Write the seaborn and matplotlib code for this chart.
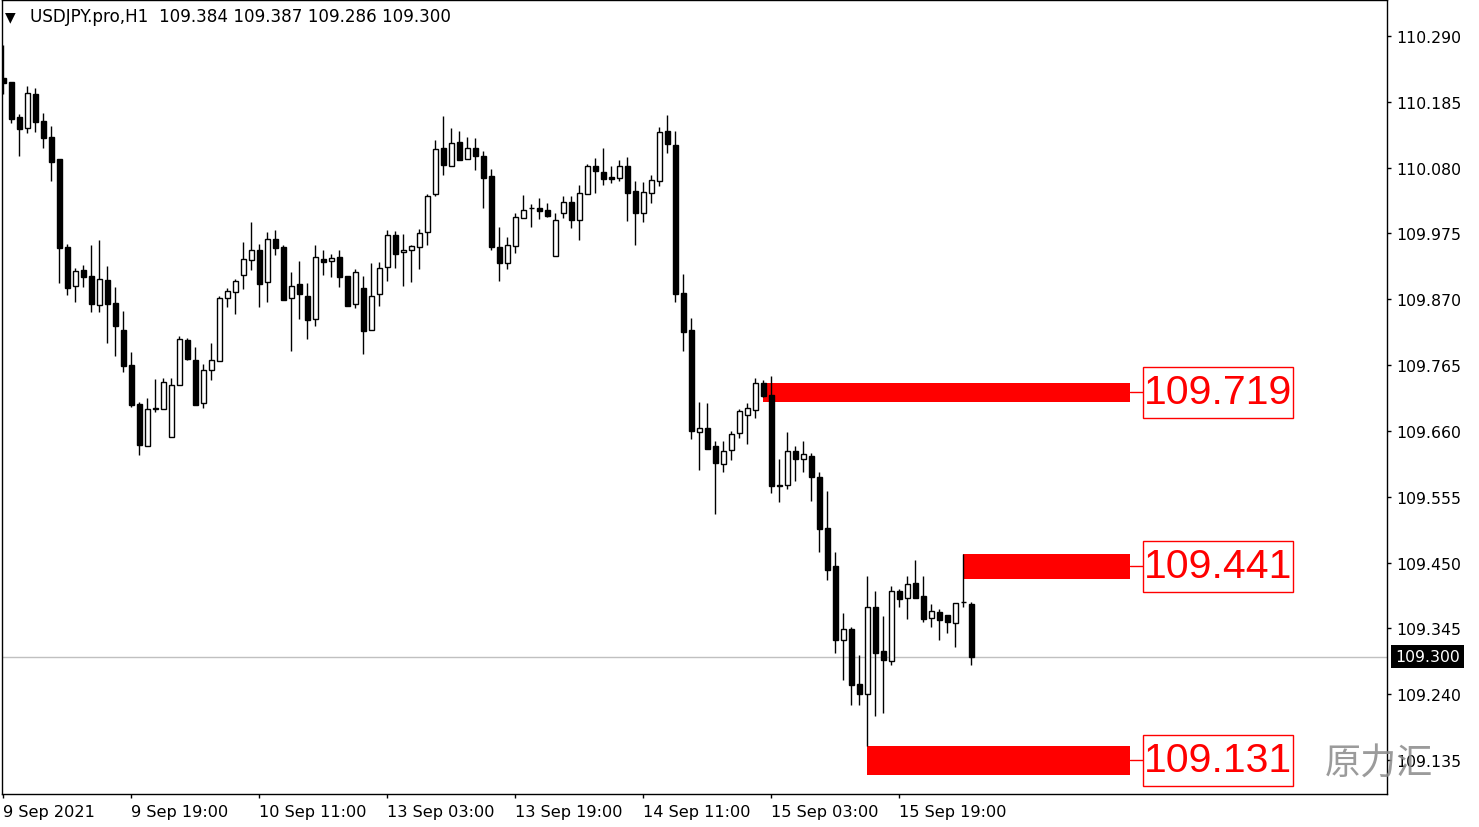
import numpy as np
import pandas as pd
import seaborn as sns
import matplotlib
matplotlib.use("Agg")
import matplotlib.pyplot as plt
from matplotlib.patches import Rectangle
from matplotlib.transforms import blended_transform_factory

# ---------------- data ----------------
opens = [110.223, 110.216, 110.160, 110.143, 110.197, 110.154, 110.129, 110.094, 109.953, 109.891,
         109.917, 109.907, 109.861, 109.901, 109.864, 109.821, 109.765, 109.703, 109.636, 109.695,
         109.695, 109.651, 109.734, 109.805, 109.773, 109.705, 109.758, 109.772, 109.872, 109.881,
         109.908, 109.932, 109.948, 109.897, 109.966, 109.953, 109.872, 109.894, 109.876, 109.838,
         109.935, 109.931, 109.938, 109.907, 109.862, 109.888, 109.821, 109.878, 109.921, 109.972,
         109.945, 109.948, 109.953, 109.977, 110.038, 110.111, 110.083, 110.121, 110.094, 110.111,
         110.099, 110.066, 109.954, 109.928, 109.955, 110.000, 110.015, 110.016, 110.012, 109.939,
         110.008, 110.026, 109.996, 110.038, 110.083, 110.073, 110.065, 110.063, 110.083, 110.043,
         110.007, 110.039, 110.059, 110.138, 110.116, 109.880, 109.821, 109.659, 109.665, 109.636,
         109.608, 109.629, 109.656, 109.686, 109.693, 109.736, 109.717, 109.574, 109.574, 109.628,
         109.616, 109.620, 109.587, 109.505, 109.444, 109.326, 109.344, 109.256, 109.240, 109.380,
         109.309, 109.293, 109.405, 109.394, 109.418, 109.397, 109.361, 109.371, 109.366, 109.354,
         109.388, 109.384]
highs = [110.276, 110.217, 110.166, 110.211, 110.207, 110.167, 110.146, 110.094, 109.958, 109.920,
         109.924, 109.957, 109.965, 109.923, 109.890, 109.851, 109.786, 109.707, 109.713, 109.743,
         109.745, 109.745, 109.812, 109.809, 109.794, 109.767, 109.800, 109.875, 109.888, 109.902,
         109.961, 109.994, 109.958, 109.977, 109.981, 109.957, 109.913, 109.931, 109.896, 109.957,
         109.949, 109.943, 109.949, 109.907, 109.918, 109.907, 109.928, 109.930, 109.981, 109.979,
         109.974, 109.957, 109.982, 110.038, 110.124, 110.163, 110.143, 110.138, 110.129, 110.127,
         110.107, 110.078, 109.986, 109.969, 110.007, 110.036, 110.022, 110.031, 110.023, 110.007,
         110.035, 110.034, 110.052, 110.086, 110.095, 110.111, 110.083, 110.092, 110.097, 110.059,
         110.057, 110.068, 110.145, 110.164, 110.138, 109.910, 109.840, 109.706, 109.704, 109.644,
         109.644, 109.660, 109.695, 109.704, 109.744, 109.741, 109.747, 109.616, 109.658, 109.636,
         109.644, 109.625, 109.595, 109.564, 109.467, 109.369, 109.347, 109.303, 109.428, 109.405,
         109.365, 109.412, 109.408, 109.428, 109.455, 109.428, 109.384, 109.376, 109.366, 109.385,
         109.464, 109.387]
lows = [110.197, 110.152, 110.098, 110.136, 110.137, 110.111, 110.059, 109.896, 109.877, 109.866,
        109.889, 109.850, 109.850, 109.800, 109.780, 109.754, 109.698, 109.622, 109.636, 109.690,
        109.695, 109.651, 109.734, 109.774, 109.702, 109.697, 109.742, 109.772, 109.858, 109.847,
        109.887, 109.917, 109.857, 109.866, 109.940, 109.869, 109.788, 109.839, 109.807, 109.828,
        109.909, 109.905, 109.890, 109.860, 109.856, 109.782, 109.821, 109.860, 109.899, 109.920,
        109.892, 109.897, 109.918, 109.956, 110.034, 110.069, 110.083, 110.093, 110.094, 110.076,
        110.016, 109.949, 109.899, 109.918, 109.944, 109.999, 109.985, 109.998, 110.002, 109.939,
        110.000, 109.984, 109.964, 110.038, 110.040, 110.053, 110.055, 110.058, 109.995, 109.956,
        109.994, 110.024, 110.051, 110.103, 109.865, 109.788, 109.647, 109.598, 109.632, 109.528,
        109.595, 109.614, 109.649, 109.640, 109.681, 109.714, 109.561, 109.546, 109.567, 109.580,
        109.595, 109.549, 109.467, 109.423, 109.306, 109.263, 109.223, 109.223, 109.158, 109.205,
        109.210, 109.286, 109.380, 109.360, 109.394, 109.356, 109.347, 109.326, 109.337, 109.315,
        109.380, 109.286]
closes = [110.215, 110.158, 110.141, 110.199, 110.153, 110.127, 110.089, 109.952, 109.888, 109.915,
          109.905, 109.863, 109.902, 109.863, 109.828, 109.764, 109.702, 109.637, 109.695, 109.696,
          109.738, 109.733, 109.806, 109.775, 109.702, 109.757, 109.773, 109.872, 109.883, 109.899,
          109.934, 109.948, 109.895, 109.966, 109.952, 109.869, 109.891, 109.879, 109.837, 109.937,
          109.930, 109.936, 109.905, 109.860, 109.914, 109.820, 109.876, 109.920, 109.972, 109.943,
          109.948, 109.955, 109.975, 110.034, 110.109, 110.085, 110.120, 110.093, 110.111, 110.099,
          110.064, 109.954, 109.928, 109.956, 110.002, 110.012, 110.016, 110.011, 110.003, 109.997,
          110.025, 109.997, 110.039, 110.082, 110.075, 110.062, 110.062, 110.082, 110.040, 110.007,
          110.041, 110.060, 110.137, 110.117, 109.878, 109.818, 109.660, 109.665, 109.632, 109.609,
          109.628, 109.655, 109.692, 109.697, 109.736, 109.716, 109.573, 109.573, 109.628, 109.616,
          109.624, 109.587, 109.504, 109.439, 109.327, 109.344, 109.255, 109.240, 109.380, 109.306,
          109.294, 109.405, 109.392, 109.416, 109.394, 109.360, 109.373, 109.358, 109.356, 109.385,
          109.387, 109.300]

time_labels = ["9 Sep 2021", "9 Sep 19:00", "10 Sep 11:00", "13 Sep 03:00",
               "13 Sep 19:00", "14 Sep 11:00", "15 Sep 03:00", "15 Sep 19:00"]
time_label_bars = [0, 16, 32, 48, 64, 80, 96, 112]
price_ticks = [110.290, 110.185, 110.080, 109.975, 109.870, 109.765,
               109.660, 109.555, 109.450, 109.345, 109.240, 109.135]

zone_start_bar = [95, 120, 108]
zone_low = [109.707, 109.424, 109.111]
zone_high = [109.736, 109.464, 109.158]
zone_labels = ["109.719", "109.441", "109.131"]

title_text = "USDJPY.pro,H1  109.384 109.387 109.286 109.300"
current_price = 109.300
current_label = "109.300"
watermark = "原力汇"

# ---------------- figure ----------------
sns.set_theme(style="white")
plt.rcParams['font.family'] = ['DejaVu Sans']

W, H = 1479, 828
fig = plt.figure(figsize=(W / 100, H / 100), dpi=100)
fig.patch.set_facecolor("white")
ax = fig.add_axes([2 / W, 33 / H, 1385 / W, 794 / H])
ax.set_facecolor("white")

df = pd.DataFrame({"open": opens, "high": highs, "low": lows, "close": closes})
df["bar"] = np.arange(len(df))
df["bull"] = df["close"] > df["open"]

# current price line
ax.axhline(current_price, color="#C0C0C0", lw=1, zorder=1)

# zones
zone_end = 140.85
label_left, label_right = 142.5, 161.2
label_h = 0.0813
for s, lo, hi, lab in zip(zone_start_bar, zone_low, zone_high, zone_labels):
    ax.add_patch(Rectangle((s, lo), zone_end - s, hi - lo, facecolor="#FF0000",
                           edgecolor="none", zorder=2))
    mid = (lo + hi) / 2
    ax.plot([zone_end, label_left], [mid, mid], color="#FF0000", lw=1, zorder=2)
    ax.add_patch(Rectangle((label_left, mid - label_h / 2), label_right - label_left, label_h,
                           facecolor="white", edgecolor="#FF0000", lw=1, zorder=5))
    ax.text((label_left + label_right) / 2, mid, lab, color="#FF0000", fontsize=29.5,
            family="Liberation Sans", ha="center", va="center", zorder=6)

# wicks
ax.vlines(df["bar"], df["low"], df["high"], color="black", lw=1, zorder=3)
# bodies
bottoms = np.minimum(df["open"], df["close"])
heights = np.maximum((df["close"] - df["open"]).abs(), 0.0004)
colors = np.where(df["bull"], "white", "black")
ax.bar(df["bar"], heights, bottom=bottoms, width=0.55, color=colors,
       edgecolor="black", linewidth=1, zorder=4)

ax.set_xlim(-0.1625, 172.96)
ax.set_ylim(109.081, 110.3474)

# axes styling
for sp in ax.spines.values():
    sp.set_visible(True)
    sp.set_color("black")
    sp.set_linewidth(1)

ax.yaxis.tick_right()
ax.set_yticks(price_ticks)
ax.set_yticklabels([f"{v:.3f}" for v in price_ticks])
ax.set_xticks(time_label_bars)
ax.set_xticklabels(time_labels, ha="left")
ax.tick_params(axis="y", direction="out", length=3, width=1, pad=4, labelsize=11.3,
               colors="black", right=True, left=False)
ax.tick_params(axis="x", direction="out", length=3, width=1, pad=4, labelsize=11.6,
               colors="black", bottom=True)
ax.set_xlabel("")
ax.set_ylabel("")

# current price tag on the axis
tr = blended_transform_factory(ax.transAxes, ax.transData)
ax.text(1.0 + 8 / 1385, current_price, current_label, transform=tr, color="white",
        fontsize=11.3, ha="left", va="center", clip_on=False, zorder=10,
        bbox=dict(facecolor="black", edgecolor="none", boxstyle="square,pad=0.25"))

# header
fig.text(5 / W, 1 - 17 / H, "▼", fontsize=10, color="black", ha="left", va="center")
fig.text(30 / W, 1 - 17 / H, title_text, fontsize=12.1, color="black",
         ha="left", va="center")

# watermark
fig.text(1325 / W, 1 - 765 / H, watermark, fontsize=26, color="#8a8a8a",
         family=["Noto Sans CJK SC", "DejaVu Sans"], ha="left", va="center", alpha=0.85)

fig.savefig("out.png", dpi=100, facecolor="white")
